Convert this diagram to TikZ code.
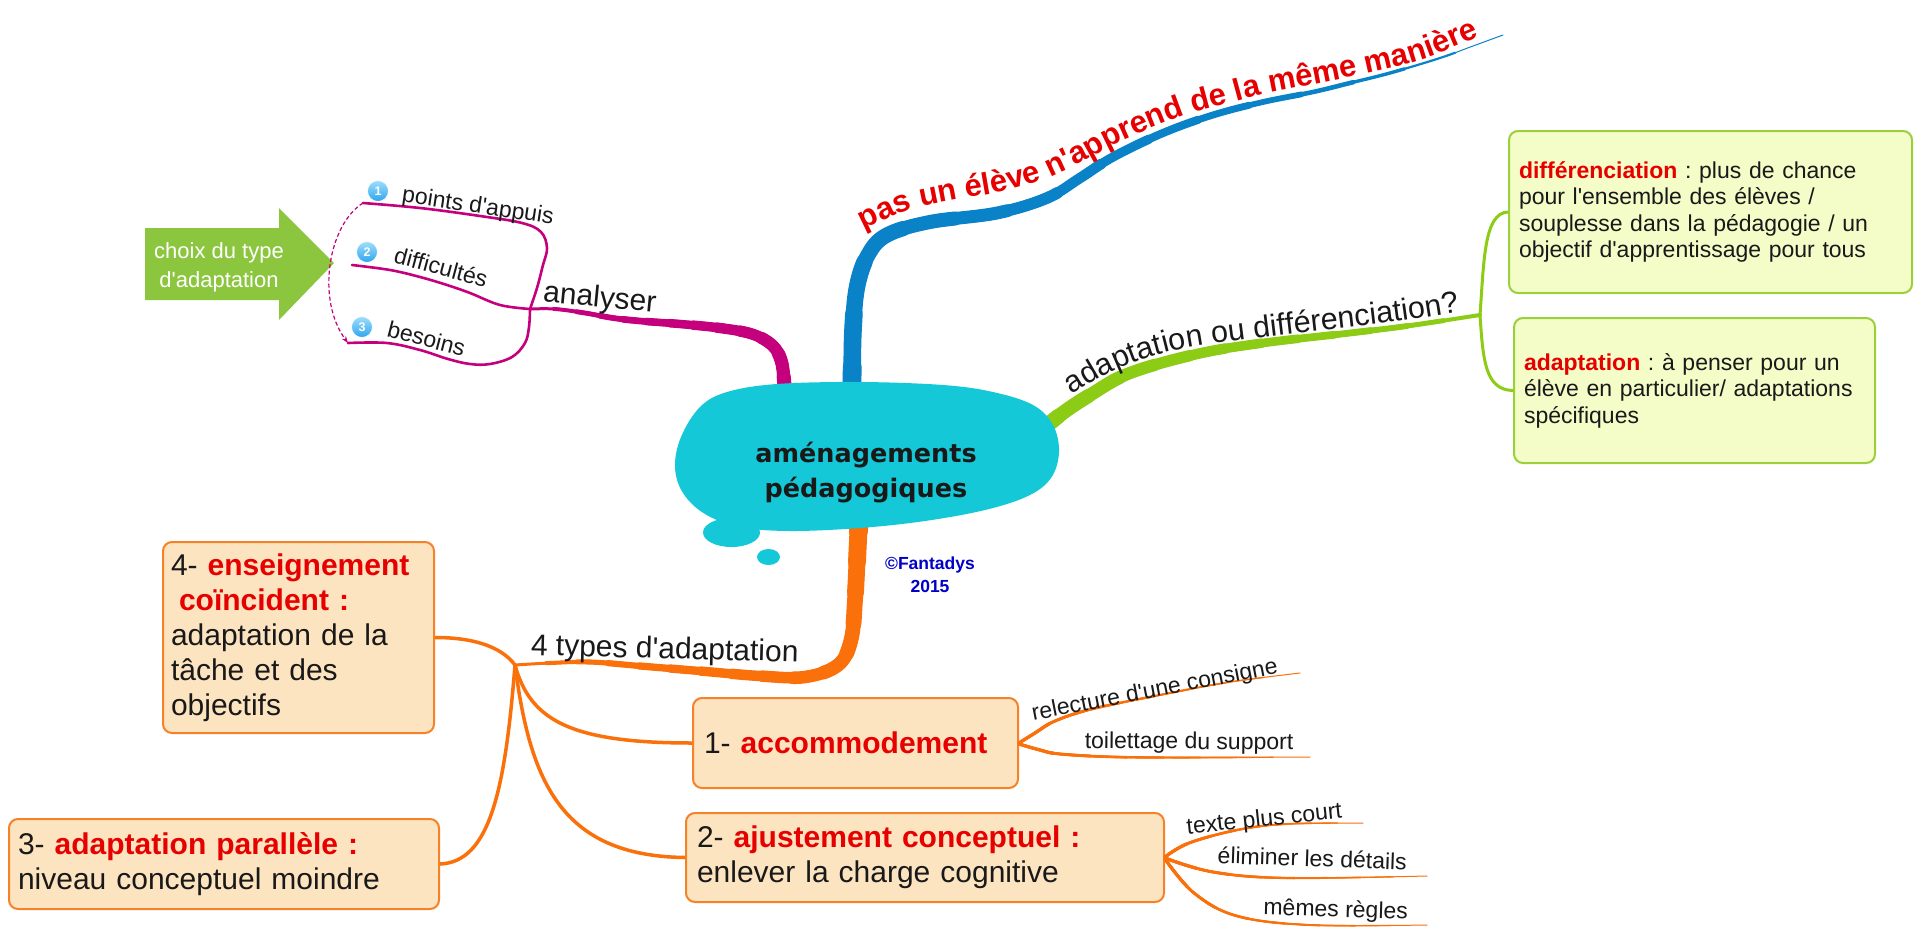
\documentclass[tikz,border=0pt]{standalone}
\usepackage{fontspec}
\setmainfont{Liberation Sans}[Ligatures=TeXOff]
\newfontfamily\cloudf{DejaVu Sans}[Ligatures=TeXOff]
\usetikzlibrary{decorations.text,arrows.meta}
\frenchspacing
\newcommand\myfs[2]{\fontsize{#1}{#2}\selectfont}
\definecolor{cloudc}{RGB}{20,200,215}
\definecolor{bluec}{RGB}{10,130,200}
\definecolor{pinkc}{RGB}{196,0,124}
\definecolor{greenc}{RGB}{140,204,20}
\definecolor{orangec}{RGB}{250,112,10}
\definecolor{oline}{RGB}{245,130,40}
\definecolor{ofill}{RGB}{253,228,192}
\definecolor{gfill}{RGB}{244,252,200}
\definecolor{gline}{RGB}{155,208,60}
\definecolor{tred}{RGB}{230,0,0}
\definecolor{arrowg}{RGB}{140,198,63}
\definecolor{copyb}{RGB}{0,0,200}
\definecolor{txt}{RGB}{25,25,25}
\definecolor{badgetop}{RGB}{160,222,252}
\definecolor{badgebot}{RGB}{45,165,238}
% tapered stroke: color, start width, end width, approx length, layers, path
\newcommand\taperdraw[6]{%
  \foreach \k in {0,...,#5}{%
    \pgfmathsetmacro\tapf{(#5+1-\k)/(#5+1)}%
    \pgfmathsetmacro\tapw{#2+(#3-#2)*\tapf}%
    \pgfmathsetmacro\tapl{ifthenelse(\k==0,9000,#4*\tapf)}%
    \draw[draw=#1, line width=\tapw pt, line cap=round, line join=round, dash pattern=on \tapl pt off 4000pt] #6;
  }}
\tikzset{
  obox/.style={draw=oline, fill=ofill, line width=2pt, rounded corners=9pt, align=left,
     inner ysep=0pt, font=\myfs{30}{35}, text=txt},
  gbox/.style={draw=gline, fill=gfill, line width=2pt, rounded corners=9pt, align=left,
     inner xsep=10pt, inner ysep=0pt, font=\myfs{23}{26.5}, text=txt},
  lbl/.style={font=\myfs{30}{36}, text=txt, inner sep=0pt, anchor=base},
  slbl/.style={font=\myfs{23}{27}, text=txt, inner sep=0pt, anchor=base},
  badge/.style={circle, minimum size=21pt, inner sep=0pt, top color=badgetop, bottom color=badgebot,
     draw=white, line width=0.7pt, text=white, font=\myfs{12.5}{12.5}\bfseries},
  oconn/.style={draw=orangec, line width=3.5pt},
  gconn/.style={draw=greenc, line width=3pt},
  pconn/.style={draw=pinkc, line width=2.6pt, line cap=round},
}
\begin{document}
\begin{tikzpicture}[x=1pt,y=-1pt]
\fill[white] (0,0) rectangle (1920,940);
\useasboundingbox (0,0) rectangle (1920,940);

% junction coordinates
\coordinate (jp) at (530,309);
\coordinate (jo) at (515,665);
\coordinate (jg) at (1480,315);
\coordinate (l1s) at (363,203);
\coordinate (l2s) at (352,265);
\coordinate (l3s) at (348,343);

% main branches
\taperdraw{bluec}{20}{1}{850}{15}{plot[smooth, tension=0.6] coordinates {(851,420) (852,380) (853,330) (857,287) (868,255) (887,235) (930,222) (997,213) (1047,198) (1080,178) (1113,157) (1163,133) (1213,115) (1263,102) (1313,92) (1350,83) (1390,73) (1440,58) (1473,46) (1503,35)}}
\taperdraw{pinkc}{15}{3}{305}{12}{plot[smooth, tension=0.6] coordinates {(785,400) (784,380) (781,360) (772,345) (752,334) (720,328) (680,324) (640,321) (613,318) (585,313) (555,309) (530,309)}}
\taperdraw{orangec}{20}{3}{495}{15}{plot[smooth, tension=0.6] coordinates {(860,500) (858,540) (855,600) (851,640) (838,665) (805,677) (760,676) (700,671) (640,666) (590,662) (550,663) (515,665)}}
\taperdraw{greenc}{16}{4}{476}{12}{plot[smooth, tension=0.6] coordinates {(1030,440) (1060,415) (1090,395) (1130,373) (1197,354) (1263,343) (1350,333) (1407,326) (1480,315)}}

% pink sub-branches
\draw[pconn] plot[smooth, tension=0.6] coordinates {(530,309) (537,288) (543,265) (547,248) (541,232) (522,223) (480,216) (420,208) (363,203)};
\draw[pconn] plot[smooth, tension=0.6] coordinates {(530,309) (500,305) (470,293) (447,285) (420,277) (390,270) (352,265)};
\draw[pconn] plot[smooth, tension=0.6] coordinates {(530,309) (529,327) (525,343) (512,357) (490,364) (470,364) (448,359) (420,350) (387,343) (348,343)};

% cloud
\fill[cloudc] plot[smooth cycle, tension=0.6] coordinates {(675,467) (681,437) (700,407) (727,392) (777,384) (860,382) (943,385) (993,392) (1033,405) (1053,425) (1059,452) (1051,478) (1028,496) (985,510) (925,521) (860,528) (790,531) (740,527) (705,514) (683,493)};
\fill[cloudc] (731.5,532.5) ellipse[x radius=28.5, y radius=14.5];
\fill[cloudc] (768.5,557) ellipse[x radius=11.5, y radius=8];
\node[font=\cloudf\bfseries\myfs{25.5}{35}, text=txt, align=center, inner sep=0pt] (center) at (866,472.5) {aménagements\\pédagogiques};
\node[font=\bfseries\myfs{17.5}{23}, text=copyb, align=center, inner sep=0pt] (copy) at (930,575) {©Fantadys\\2015};

% boxes
\node[obox, inner xsep=8pt, text width=255pt, minimum height=191pt] (box4) at (298.5,637.5)
  {4- \textcolor{tred}{\bfseries enseignement}\\\hspace*{8pt}\textcolor{tred}{\bfseries coïncident :}\\adaptation de la\\tâche et des\\objectifs};
\node[obox, inner xsep=9pt, text width=412pt, minimum height=90pt] (box3) at (224,864)
  {3- \textcolor{tred}{\bfseries adaptation parallèle :}\\niveau conceptuel moindre};
\node[obox, inner xsep=11pt, text width=303pt, minimum height=90pt] (box1) at (855.5,743)
  {1- \textcolor{tred}{\bfseries accommodement}};
\node[obox, inner xsep=11pt, text width=456pt, minimum height=89pt] (box2) at (925,857.5)
  {2- \textcolor{tred}{\bfseries ajustement conceptuel :}\\enlever la charge cognitive};
\node[gbox, text width=383pt, minimum height=162pt] (boxA) at (1710.5,212)
  {\textcolor{tred}{\bfseries différenciation} : plus de chance\\pour l'ensemble des élèves /\\souplesse dans la pédagogie / un\\objectif d'apprentissage pour tous};
\node[gbox, text width=341pt, minimum height=145pt] (boxB) at (1694.5,390.5)
  {\textcolor{tred}{\bfseries adaptation} : à penser pour un\\élève en particulier/ adaptations\\spécifiques};

% orange connectors to boxes
\draw[oconn] (jo) .. controls (500,645) and (470,637.5) .. (box4.east);
\draw[oconn] (jo) .. controls (505,790) and (490,862) .. (box3.east);
\draw[oconn] (jo) .. controls (530,720) and (570,743) .. (box1.west);
\draw[oconn] (jo) .. controls (530,780) and (560,856) .. (box2.west);

% green bracket
\draw[gconn] (jg) .. controls (1484,260) and (1484,213) .. (boxA.west);
\draw[gconn] (jg) .. controls (1483,360) and (1485,390) .. (boxB.west);

% box sub-branches
\taperdraw{orangec}{3.6}{1}{292}{7}{plot[smooth, tension=0.6] coordinates {(1019,743) (1035,733) (1055,721) (1092,709) (1165,694) (1230,682) (1300,673)}}
\taperdraw{orangec}{3.6}{1}{292}{7}{plot[smooth, tension=0.6] coordinates {(1019,744) (1040,750) (1060,754) (1116,757) (1200,757.5) (1310,757)}}
\taperdraw{orangec}{3.6}{1}{204}{7}{plot[smooth, tension=0.6] coordinates {(1165,857) (1189,843) (1237,830) (1286,824) (1363,823)}}
\taperdraw{orangec}{3.6}{1}{264}{7}{plot[smooth, tension=0.6] coordinates {(1165,858) (1213,872) (1286,878) (1427,876)}}
\taperdraw{orangec}{3.6}{1}{284}{7}{plot[smooth, tension=0.6] coordinates {(1165,859) (1194,893) (1237,916) (1310,925) (1427,925)}}

% green arrow
\fill[arrowg] (145,228) -- (279,228) -- (279,208) -- (334,263) -- (279,320) -- (279,300) -- (145,300) -- cycle;
\node[font=\myfs{22}{29}, text=white, align=center, inner sep=0pt] (choix) at (219,267) {choix du type\\d'adaptation};

% dashed arrow
\draw[pinkc, line width=1.2pt, dash pattern=on 4pt off 2.5pt, -{Stealth[length=7pt,width=5pt]}] (l1s) .. controls (328,225) and (316,300) .. (l3s);

% badges
\node[badge] (b1) at (378,191) {1};
\node[badge] (b2) at (367,252) {2};
\node[badge] (b3) at (362,327) {3};

% curved labels
\path[decorate, decoration={text along path, text color=tred, text={|\myfs{31}{31}\bfseries|pas un élève n'apprend de la même manière}}] plot[smooth, tension=0.6] coordinates {(864,230) (885,220) (912,209) (960,199) (1000,192) (1043,180) (1080,163) (1120,142) (1180,117) (1230,103) (1270,93) (1350,77) (1420,60) (1480,36) (1530,16)};
\path[decorate, decoration={text along path, text color=txt, text={|\myfs{30.5}{31}|adaptation ou différenciation?}}] plot[smooth, tension=0.6] coordinates {(1072,395) (1100,378) (1130,364) (1160,354) (1197,346) (1263,337) (1350,327) (1407,320) (1478,309) (1530,302)};

% other labels
\node[lbl, rotate=-5.5] (lana) at (599,307) {analyser};
\node[lbl, rotate=-1.5] (ltypes) at (664.5,658.5) {4 types d'adaptation};
\node[slbl, rotate=-8.5] (lpts) at (477,213) {points d'appuis};
\node[slbl, rotate=-15] (ldif) at (439,275) {difficultés};
\node[slbl, rotate=-14.5] (lbes) at (424.5,346.5) {besoins};
\node[slbl, rotate=11] (lrel) at (1156,697) {relecture d'une consigne};
\node[slbl, rotate=-0.5] (ltoi) at (1189,749) {toilettage du support};
\node[slbl, rotate=6] (ltex) at (1265,826) {texte plus court};
\node[slbl, rotate=-2] (lelim) at (1312,866.5) {éliminer les détails};
\node[slbl, rotate=-1.6] (lmem) at (1335.5,917) {mêmes règles};
\end{tikzpicture}
\end{document}
